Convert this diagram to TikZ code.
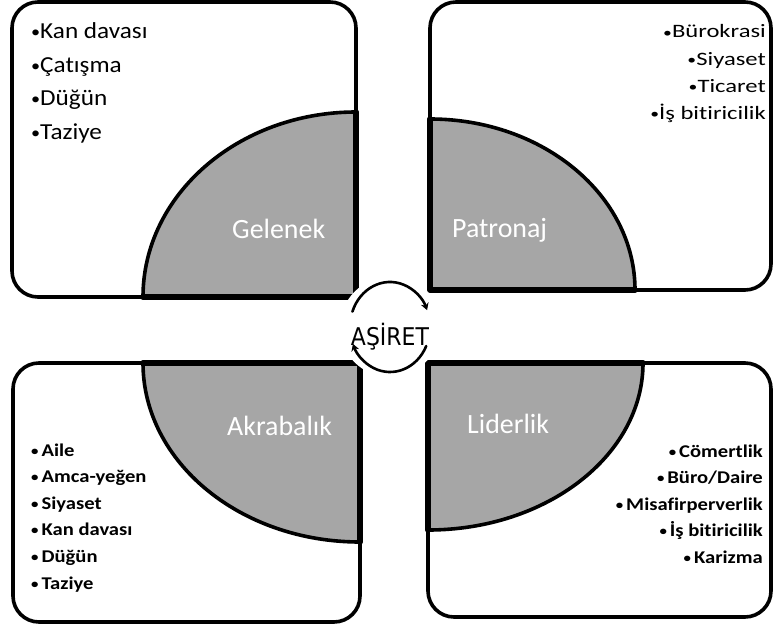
\documentclass[tikz,border=0pt]{standalone}
\usepackage{fontspec}
\setmainfont[Ligatures=NoCommon]{Carlito}
\newfontfamily\solfont[FakeStretch=1.1,Ligatures=NoCommon]{Carlito}
\newfontfamily\sagfont[FakeStretch=1.3,Ligatures=NoCommon]{Carlito}
\newfontfamily\altfont[FakeStretch=1.15,Ligatures=NoCommon]{Carlito}
\newfontfamily\merkezfont[FakeStretch=0.9]{DejaVu Sans}
\newcommand\imi{\raisebox{0.05em}{\scalebox{0.72}{•}}}
\usetikzlibrary{arrows.meta}

\begin{document}
\begin{tikzpicture}[
  x=1bp, y=-1bp,
  line cap=round,
  line join=round,
  kutu/.style={line width=3.6bp, rounded corners=26bp},
  dilim/.style={fill=black!35, line width=3.6bp},
  kenar/.style={line width=5.5bp},
  etiket/.style={text=white, inner sep=0pt, anchor=base west,
    font=\fontsize{28}{30}\selectfont},
  madde/.style={inner sep=0pt},
  donus/.style={line width=2.6bp, -{Stealth[length=7bp,width=8bp]}}
]
  \useasboundingbox (0,0) rectangle (773,633);

  % Merkez
  \coordinate (M) at (390,327);

  % Kutular
  \draw[kutu] (12,2) rectangle (356,297);
  \draw[kutu] (430,2) rectangle (771,290);
  \draw[kutu] (13,363) rectangle (360,622);
  \draw[kutu] (428,363) rectangle (771,617);

  % Gelenek dilimi
  \draw[dilim] (356,297) -- (143,297)
    arc[start angle=180, end angle=270, x radius=213, y radius=185] -- cycle;
  \draw[kenar] (143,297) -- (356,297) -- (356,112);

  % Patronaj dilimi
  \draw[dilim] (430,290) -- (430,119)
    arc[start angle=270, end angle=360, x radius=205, y radius=171] -- cycle;
  \draw[kenar] (430,119) -- (430,290) -- (635,290);

  % Akrabalik dilimi
  \draw[dilim] (360,363) -- (143,363)
    arc[start angle=180, end angle=90, x radius=217, y radius=179] -- cycle;
  \draw[kenar] (143,363) -- (360,363) -- (360,542);

  % Liderlik dilimi
  \draw[dilim] (428,363) -- (428,530)
    arc[start angle=90, end angle=0, x radius=215, y radius=167] -- cycle;
  \draw[kenar] (428,530) -- (428,363) -- (643,363);

  % Ortadaki donen oklar
  \fill[white] (M) circle (50);
  \draw[donus] ([shift={(200:40 and 45)}]M)
    arc[start angle=200, end angle=338, x radius=40, y radius=45];
  \draw[donus] ([shift={(25:40 and 45)}]M)
    arc[start angle=25, end angle=158, x radius=40, y radius=45];
  \node[inner sep=0pt, anchor=base, font=\merkezfont\fontsize{24.5}{26}\selectfont]
    (asiret) at (390,345) {AŞİRET};

  % Dilim etiketleri
  \node[etiket] (gelenek) at (232,238) {Gelenek};
  \node[etiket] (patronaj) at (452,237) {Patronaj};
  \node[etiket] (akrabalik) at (227,435) {Akrabalık};
  \node[etiket] (liderlik) at (467,433) {Liderlik};

  % Maddeler
  \foreach \t [count=\i] in {Kan davası, Çatışma, Düğün, Taziye}
    \node[madde, anchor=base west, font=\solfont\fontsize{23}{25}\selectfont]
      (gl\i) at (31,39+33.5*\i-33.5) {\imi\t};
  \foreach \t [count=\i] in {Bürokrasi, Siyaset, Ticaret, İş bitiricilik}
    \node[madde, anchor=base east, font=\sagfont\fontsize{19}{21}\selectfont]
      (pt\i) at (766,38+27.2*\i-27.2) {\imi\t};
  \foreach \t [count=\i] in {Aile, Amca-yeğen, Siyaset, Kan davası, Düğün, Taziye}
    \node[madde, anchor=base west, font=\altfont\bfseries\fontsize{18}{20}\selectfont]
      (ak\i) at (31,456+26.6*\i-26.6) {\imi\,\t};
  \foreach \t [count=\i] in {Cömertlik, Büro/Daire, Misafirperverlik, İş bitiricilik, Karizma}
    \node[madde, anchor=base east, font=\altfont\bfseries\fontsize{18}{20}\selectfont]
      (ld\i) at (763,457+26.5*\i-26.5) {\imi\,\t};
\end{tikzpicture}
\end{document}
